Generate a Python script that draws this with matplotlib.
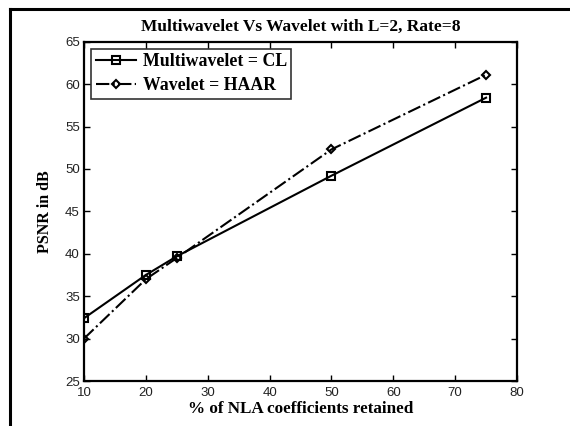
import matplotlib.pyplot as plt
from matplotlib.lines import Line2D

retained = [10, 20, 25, 50, 75]
psnr_multi = [32.4, 37.5, 39.7, 49.2, 58.4]
psnr_haar = [30.0, 37.0, 39.5, 52.3, 61.1]

xticks = [10, 20, 30, 40, 50, 60, 70, 80]
yticks = [25, 30, 35, 40, 45, 50, 55, 60, 65]

serif = 'Liberation Serif'
sans = 'Liberation Sans'

fig = plt.figure(figsize=(5.7, 4.26), dpi=100)
ax = fig.add_axes([84 / 570, 1 - 381 / 426, (517 - 84) / 570, (381 - 41.7) / 426])

ax.plot(retained, psnr_multi, c='k', lw=1.5, marker='s', ms=6, mfc='none',
        mew=1.5, label='Multiwavelet = CL')
ax.plot(retained, psnr_haar, c='k', lw=1.5, linestyle='-.', marker='D', ms=4.5,
        mfc='none', mew=1.5, label='Wavelet = HAAR')

ax.set_xlim(10, 80)
ax.set_ylim(25, 65)
ax.set_xticks(xticks)
ax.set_yticks(yticks)
ax.tick_params(direction='in', top=True, right=True, length=4, width=1,
               labelsize=9.5, pad=3)
ax.tick_params(axis='x', pad=4)
for lab in ax.get_xticklabels() + ax.get_yticklabels():
    lab.set_family(sans)
    lab.set_color('#222222')
for s in ax.spines.values():
    s.set_linewidth(1.6)

ax.set_title('Multiwavelet Vs Wavelet with L=2, Rate=8', family=serif,
             fontweight='bold', fontsize=12.5, pad=8)
ax.set_xlabel('% of NLA coefficients retained', family=serif,
              fontweight='bold', fontsize=12.3, labelpad=2)
ax.set_ylabel('PSNR in dB', family=serif, fontweight='bold', fontsize=11.5,
              labelpad=9)

leg = ax.legend(loc='upper left', prop={'family': serif, 'weight': 'bold',
                                        'size': 12.8},
                frameon=True, fancybox=False, edgecolor='k', borderpad=0.25,
                handlelength=2.3, handletextpad=0.35, labelspacing=0.4,
                borderaxespad=0.4)
leg.get_frame().set_linewidth(1.2)

# outer frame: top and left edges only
fig.add_artist(Line2D([10 / 570, 1], [1 - 9.3 / 426, 1 - 9.3 / 426],
                      transform=fig.transFigure, c='k', lw=2.2))
fig.add_artist(Line2D([10 / 570, 10 / 570], [0, 1 - 9.3 / 426],
                      transform=fig.transFigure, c='k', lw=2.2))

fig.savefig('out.png', dpi=100)
